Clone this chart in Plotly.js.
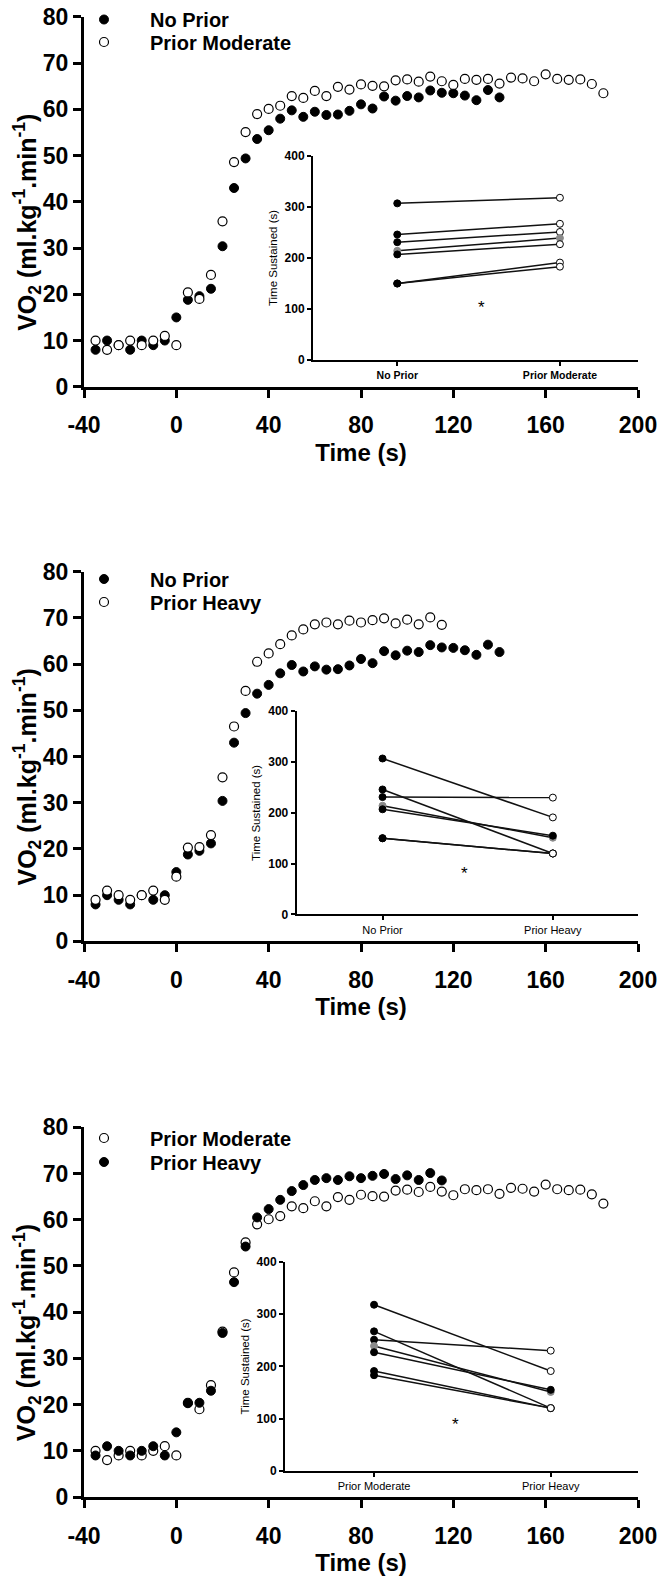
<!DOCTYPE html>
<html>
<head>
<meta charset="utf-8">
<script src="https://cdn.plot.ly/plotly-3.0.1.min.js"></script>
<style>html,body{margin:0;padding:0;background:#fff}</style>
</head>
<body>
<div id="chart" style="width:665px;height:1583px"></div>
<script>
// ---------- DATA ----------
const timeNoPrior = [-35,-30,-25,-20,-15,-10,-5,0,5,10,15,20,25,30,35,40,45,50,55,60,65,70,75,80,85,90,95,100,105,110,115,120,125,130,135,140];
const vo2NoPrior  = [8,10,9,8,10,9,10,15,18.8,19.6,21.2,30.4,43.0,49.4,53.6,55.5,58.0,59.8,58.4,59.5,58.8,58.9,59.7,61.1,60.2,62.8,61.9,62.9,62.6,64.1,63.6,63.5,63.0,62.0,64.2,62.6];

const timePriorModerate = [-35,-30,-25,-20,-15,-10,-5,0,5,10,15,20,25,30,35,40,45,50,55,60,65,70,75,80,85,90,95,100,105,110,115,120,125,130,135,140,145,150,155,160,165,170,175,180,185];
const vo2PriorModerate  = [10,8,9,10,9,10,11,9,20.4,19.0,24.2,35.8,48.6,55.1,59.0,60.1,60.8,62.9,62.5,64.0,62.9,64.9,64.3,65.4,65.1,65.0,66.3,66.5,66.0,67.1,66.1,65.3,66.6,66.4,66.6,65.6,66.9,66.7,66.1,67.6,66.6,66.4,66.5,65.5,63.5];

const timePriorHeavy = [-35,-30,-25,-20,-15,-10,-5,0,5,10,15,20,25,30,35,40,45,50,55,60,65,70,75,80,85,90,95,100,105,110,115];
const vo2PriorHeavy  = [9,11,10,9,10,11,9,14,20.3,20.4,23.0,35.5,46.5,54.2,60.5,62.3,64.3,66.2,67.5,68.6,69.0,68.6,69.4,69.0,69.5,69.9,68.8,69.6,68.6,70.1,68.5];

// Time sustained (s), one value per participant (same order in every array)
const tsNoPrior       = [307,246,231,214,207,150,150];
const tsPriorModerate = [318,267,251,239,227,191,183];
const tsPriorHeavy    = [191,120,230,151,155,120,120];

const timeTicks  = [-40,0,40,80,120,160,200];
const vo2Ticks   = [0,10,20,30,40,50,60,70,80];
const tsTicks    = [0,100,200,300,400];
const catsPanel1 = ['No Prior','Prior Moderate'];
const catsPanel2 = ['No Prior','Prior Heavy'];
const catsPanel3 = ['Prior Moderate','Prior Heavy'];
const xTitle = 'Time (s)';
const yTitle = 'VO<sub>2</sub> (ml.kg<sup>-1</sup>.min<sup>-1</sup>)';
const insetTitle = 'Time Sustained (s)';

// ---------- STYLE / LAYOUT ----------
const W = 665, H = 1583;
const fx = p => p / W;
const fy = p => 1 - p / H;
const FONT = 'Liberation Sans, Arial, sans-serif';
const GREY = '#8a8a8a';

const openMarker   = {symbol:'circle', size:9, color:'#ffffff', line:{color:'#000', width:1.2}};
const filledMarker = {symbol:'circle', size:9, color:'#000000', line:{color:'#000', width:1}};

const panels = [
  {top:16, bottom:386, rows:[19,42],
   series:[{name:'No Prior', t:timeNoPrior, v:vo2NoPrior, filled:true},
           {name:'Prior Moderate', t:timePriorModerate, v:vo2PriorModerate, filled:false}],
   inset:{left:313, right:638, top:155, bottom:359.3, range:[-0.518,1.48], cats:catsPanel1,
          a:tsNoPrior, b:tsPriorModerate, rightBlack:[], catBold:true, star:[0.515,103]}},
  {top:571, bottom:941, rows:[579,602],
   series:[{name:'No Prior', t:timeNoPrior, v:vo2NoPrior, filled:true},
           {name:'Prior Heavy', t:timePriorHeavy, v:vo2PriorHeavy, filled:false}],
   inset:{left:296.7, right:638, top:710.7, bottom:914, range:[-0.504,1.50], cats:catsPanel2,
          a:tsNoPrior, b:tsPriorHeavy, rightBlack:[4], catBold:false, star:[0.48,80]}},
  {top:1127, bottom:1497, rows:[1138,1162],
   series:[{name:'Prior Moderate', t:timePriorModerate, v:vo2PriorModerate, filled:false},
           {name:'Prior Heavy', t:timePriorHeavy, v:vo2PriorHeavy, filled:true}],
   inset:{left:285, right:638, top:1261.7, bottom:1470.7, range:[-0.504,1.494], cats:catsPanel3,
          a:tsPriorModerate, b:tsPriorHeavy, rightBlack:[4], catBold:false, star:[0.46,88]}}
];
const greySubject = 3;

const data = [];
const layout = {
  width: W, height: H,
  margin: {l:0, r:0, t:0, b:0},
  paper_bgcolor: '#ffffff',
  plot_bgcolor: 'rgba(0,0,0,0)',
  font: {family: FONT, color: '#000'},
  annotations: []
};

let legendCount = 0;
panels.forEach((p, i) => {
  const n = i + 1, m = i + 4;
  const xk = n === 1 ? 'x' : 'x' + n, yk = n === 1 ? 'y' : 'y' + n;
  const xik = 'x' + m, yik = 'y' + m;

  // main scatter series, each with its own one-entry legend
  p.series.forEach((s, j) => {
    legendCount += 1;
    const legendKey = legendCount === 1 ? 'legend' : 'legend' + legendCount;
    data.push({
      type: 'scatter', mode: 'markers', name: s.name,
      x: s.t, y: s.v, xaxis: xk, yaxis: yk,
      marker: s.filled ? filledMarker : openMarker,
      cliponaxis: false, legend: legendKey, showlegend: true
    });
    layout[legendKey] = {
      x: fx(58), xanchor: 'left', y: fy(p.rows[j]), yanchor: 'middle',
      bgcolor: 'rgba(0,0,0,0)', borderwidth: 0, itemwidth: 82,
      font: {family: FONT, size: 20, weight: 'bold', color: '#000'}
    };
  });

  layout[n === 1 ? 'xaxis' : 'xaxis' + n] = {
    domain: [fx(84), fx(638)], anchor: yk,
    range: [-40, 200], tickmode: 'array', tickvals: timeTicks, ticktext: timeTicks.map(String),
    showline: true, linewidth: 3, linecolor: '#000', ticks: 'outside', ticklen: 8, tickwidth: 3, tickcolor: '#000',
    ticklabelstandoff: 8,
    showgrid: false, zeroline: false,
    tickfont: {family: FONT, size: 23, weight: 'bold', color: '#000'},
    title: {text: xTitle, font: {family: FONT, size: 24, weight: 'bold', color: '#000'}, standoff: 7}
  };
  layout[n === 1 ? 'yaxis' : 'yaxis' + n] = {
    domain: [fy(p.bottom), fy(p.top)], anchor: xk,
    range: [0, 80], tickmode: 'array', tickvals: vo2Ticks, ticktext: vo2Ticks.map(String),
    showline: true, linewidth: 3, linecolor: '#000', ticks: 'outside', ticklen: 8, tickwidth: 3, tickcolor: '#000',
    showgrid: false, zeroline: false,
    tickfont: {family: FONT, size: 23, weight: 'bold', color: '#000'}
  };
  // y-axis title (placed as rotated text beside the axis)
  layout.annotations.push({
    xref: 'paper', yref: 'paper', x: fx(27), y: fy((p.top + p.bottom) / 2 + 21),
    xanchor: 'center', yanchor: 'middle', textangle: -90,
    text: yTitle, showarrow: false,
    font: {family: FONT, size: 25, weight: 'bold', color: '#000'}
  });

  // inset: paired lines per participant
  const ins = p.inset;
  ins.a.forEach((va, k) => {
    const vb = ins.b[k];
    const leftColor = k === greySubject ? GREY : '#000';
    let rightColor = '#fff', rightLine = '#000';
    if (k === greySubject) { rightColor = GREY; rightLine = GREY; }
    else if (ins.rightBlack.includes(k)) { rightColor = '#000'; }
    data.push({
      type: 'scatter', mode: 'lines+markers',
      x: [0, 1], y: [va, vb], xaxis: xik, yaxis: yik,
      line: {color: '#111', width: 1.5},
      marker: {size: 7, color: [leftColor, rightColor],
               line: {color: [leftColor, rightLine], width: 1}},
      cliponaxis: false, showlegend: false, hoverinfo: 'skip'
    });
  });

  layout['xaxis' + m] = {
    domain: [fx(ins.left), fx(ins.right)], anchor: yik,
    range: ins.range, tickmode: 'array', tickvals: [0, 1], ticktext: ins.cats,
    showline: true, linewidth: 2, linecolor: '#000', ticks: 'outside', ticklen: 4, tickwidth: 2, tickcolor: '#000',
    showgrid: false, zeroline: false,
    tickfont: {family: FONT, size: ins.catBold ? 10.5 : 11, weight: ins.catBold ? 'bold' : 'normal', color: '#000'}
  };
  layout['yaxis' + m] = {
    domain: [fy(ins.bottom), fy(ins.top)], anchor: xik,
    range: [0, 400], tickmode: 'array', tickvals: tsTicks, ticktext: tsTicks.map(String),
    showline: true, linewidth: 2, linecolor: '#000', ticks: 'outside', ticklen: 4, tickwidth: 2, tickcolor: '#000',
    showgrid: false, zeroline: false,
    tickfont: {family: FONT, size: 12, weight: 'bold', color: '#000'},
    title: {text: insetTitle, font: {family: FONT, size: 11.5, color: '#000'}, standoff: 5}
  };

  layout.annotations.push({
    xref: xik, yref: yik, x: ins.star[0], y: ins.star[1],
    text: '*', showarrow: false, font: {family: FONT, size: 17, color: '#000'}
  });
});

Plotly.newPlot('chart', data, layout, {displayModeBar: false, staticPlot: true});
</script>
</body>
</html>
